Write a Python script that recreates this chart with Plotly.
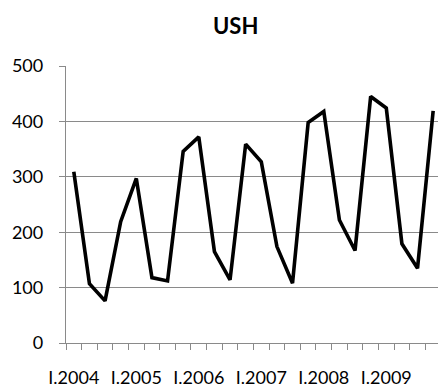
import plotly.graph_objects as go

# Quarterly categories 2004-2009
years = [2004, 2005, 2006, 2007, 2008, 2009]
quarters = ["I", "II", "III", "IV"]
categories = [f"{q}.{y}" for y in years for q in quarters]
values = [309, 107, 76, 219, 297, 118, 112, 346, 372, 165, 114, 359,
          327, 174, 108, 398, 418, 222, 167, 445, 424, 179, 135, 419]
y_ticks = [0, 100, 200, 300, 400, 500]

FONT = "Lato"
GRID = "#8a8a8a"
XRANGE = [-0.5, 23.31]

xs = list(range(len(categories)))
label_idx = [i for i, c in enumerate(categories) if c.startswith("I.")]
boundaries = [i - 0.5 for i in range(len(categories) + 1)]

fig = go.Figure()
fig.add_trace(go.Scatter(x=xs, y=values, mode="lines",
                         line=dict(color="black", width=3.6),
                         hoverinfo="skip", showlegend=False))
# invisible trace on the label axis
fig.add_trace(go.Scatter(x=xs, y=values, mode="lines", xaxis="x2",
                         line=dict(color="rgba(0,0,0,0)", width=0),
                         hoverinfo="skip", showlegend=False))

fig.update_layout(
    width=438, height=389,
    margin=dict(l=66, r=0, t=66, b=46),
    paper_bgcolor="white", plot_bgcolor="white",
    font=dict(family=FONT, size=18, color="black"),
    xaxis=dict(
        range=XRANGE, showgrid=False, zeroline=False,
        showline=True, linecolor=GRID, linewidth=1.3,
        tickmode="array", tickvals=boundaries, ticktext=[""] * len(boundaries),
        ticks="outside", ticklen=6, tickcolor=GRID, tickwidth=1.3,
    ),
    xaxis2=dict(
        range=XRANGE, overlaying="x", side="bottom", showgrid=False,
        zeroline=False, showline=False,
        tickmode="array", tickvals=label_idx,
        ticktext=[categories[i] for i in label_idx],
        ticks="", ticklabelstandoff=22,
        tickfont=dict(family=FONT, size=18),
    ),
    yaxis=dict(
        range=[0, 500], tickmode="array", tickvals=y_ticks,
        showgrid=True, gridcolor=GRID, gridwidth=1.3, zeroline=False,
        showline=True, linecolor=GRID, linewidth=1.3,
        ticks="outside", ticklen=6, tickcolor=GRID, tickwidth=1.3,
        ticklabelstandoff=12,
        tickfont=dict(family=FONT, size=18),
    ),
)
fig.add_annotation(text="<b>USH</b>", xref="paper", yref="paper",
                   x=(235 - 66) / 372, y=1 + (66 - 25) / 277,
                   xanchor="center", yanchor="middle", showarrow=False,
                   font=dict(family=FONT, size=22, color="black"))

fig.write_html("out.html")
